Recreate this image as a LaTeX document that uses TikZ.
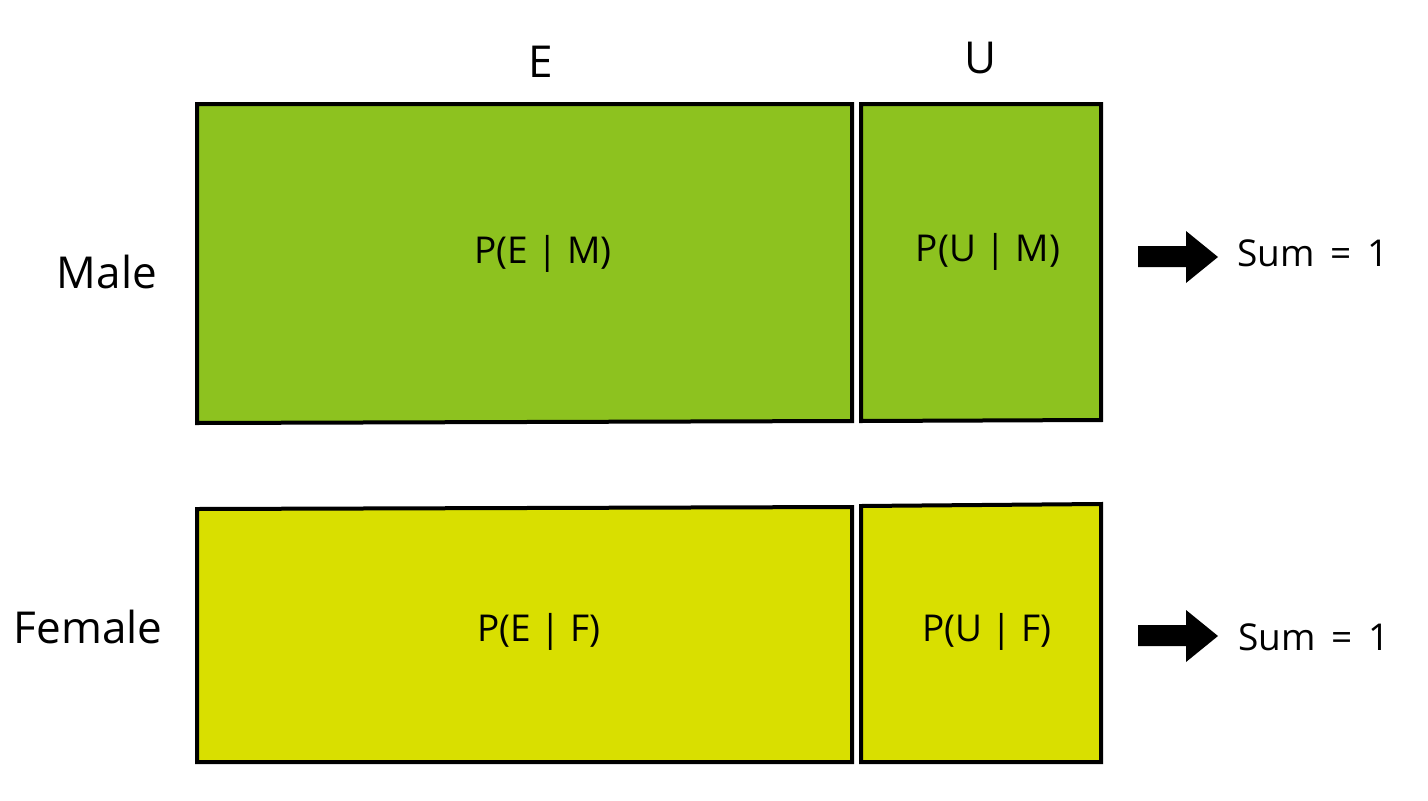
\documentclass[tikz,border=0pt]{standalone}
\usepackage{fontspec}
\setmainfont{Open Sans}
\definecolor{boxgreen}{RGB}{141,194,31}
\definecolor{boxyellow}{RGB}{217,223,0}
\begin{document}
\begin{tikzpicture}[x=1pt,y=-1pt,
  cell/.style={draw=black,line width=4pt,line join=miter},
  big/.style={font=\fontsize{44}{52}\selectfont},
  lab/.style={font=\fontsize{37}{44}\selectfont},
  blockarrow/.style={fill=black}]
\useasboundingbox (0,0) rectangle (1428,801);
% boxes
\filldraw[cell,fill=boxgreen] (197,104) -- (852,104) -- (852,421) -- (197,423) -- cycle;
\filldraw[cell,fill=boxgreen] (861,104) -- (1101,104) -- (1101,420) -- (861,421) -- cycle;
\filldraw[cell,fill=boxyellow] (197,509) -- (852,507) -- (852,762) -- (197,762) -- cycle;
\filldraw[cell,fill=boxyellow] (861,506) -- (1101,504) -- (1101,762) -- (861,762) -- cycle;
% headers
\node[big] (hE) at (541,62) {E};
\node[big] (hU) at (981,58) {U};
\node[big] (rM) at (107,272) {Male};
\node[big] (rF) at (88,627) {Female};
% cell labels
\node[lab] (pem) at (543,254) {P(E | M)};
\node[lab] (pum) at (988,252) {P(U | M)};
\node[lab] (pef) at (539,632) {P(E | F)};
\node[lab] (puf) at (987,632) {P(U | F)};
% sums
\node[lab] (s1) at (1313,253) {Sum\hspace{6pt} = \hspace{6pt}1};
\node[lab] (s2) at (1314,637) {Sum\hspace{6pt} = \hspace{6pt}1};
% block arrows
\fill[blockarrow] (1138,246) -- (1186,246) -- (1186,231) -- (1218,257) -- (1186,283) -- (1186,267) -- (1138,267) -- cycle;
\fill[blockarrow] (1138,625) -- (1186,625) -- (1186,610) -- (1218,636) -- (1186,662) -- (1186,646) -- (1138,646) -- cycle;
\end{tikzpicture}
\end{document}
